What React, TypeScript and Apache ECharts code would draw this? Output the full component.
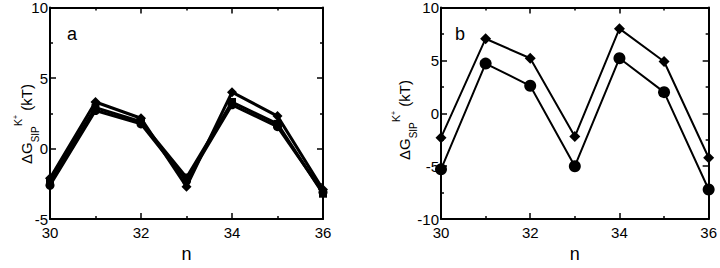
import React, { useEffect, useRef } from "react";
import * as echarts from "echarts";

const nValues = [30, 31, 32, 33, 34, 35, 36];
const aDiamond = [-2.1, 3.3, 2.15, -2.7, 4.0, 2.3, -2.9];
const aSquare = [-2.3, 2.9, 1.9, -2.05, 3.3, 1.75, -3.2];
const aCircle = [-2.6, 2.7, 1.75, -2.3, 3.1, 1.55, -3.1];
const bDiamond = [-2.3, 7.05, 5.2, -2.2, 8.0, 4.9, -4.2];
const bCircle = [-5.3, 4.7, 2.6, -5.0, 5.2, 2.0, -7.2];

const font = "Liberation Sans, Arial, Helvetica, sans-serif";

function pairs(ys: number[]) {
  return nValues.map((n, i) => [n, ys[i]]);
}

function xAx(gridIndex: number, pos: "bottom" | "top", show: boolean) {
  return {
    type: "value",
    gridIndex,
    position: pos,
    min: 30,
    max: 36,
    interval: 2,
    axisLine: { show: true, onZero: false, lineStyle: { color: "#000", width: 2 } },
    axisTick: { show: true, inside: true, length: 6, lineStyle: { color: "#000", width: 1.5 } },
    minorTick: { show: true, splitNumber: 2, length: 3, lineStyle: { color: "#000", width: 1.5 } },
    splitLine: { show: false },
    axisLabel: show
      ? { show: true, color: "#000", fontSize: 15, fontFamily: font, margin: 6 }
      : { show: false },
    name: show ? "n" : "",
    nameLocation: "middle",
    nameGap: 22,
    nameTextStyle: { color: "#000", fontSize: 18, fontFamily: font },
  };
}

function yAx(gridIndex: number, pos: "left" | "right", show: boolean, min: number, max: number) {
  return {
    type: "value",
    gridIndex,
    position: pos,
    min,
    max,
    interval: 5,
    axisLine: { show: true, onZero: false, lineStyle: { color: "#000", width: 2 } },
    axisTick: { show: true, inside: true, length: 6, lineStyle: { color: "#000", width: 1.5 } },
    minorTick: { show: true, splitNumber: 2, length: 3, lineStyle: { color: "#000", width: 1.5 } },
    splitLine: { show: false },
    axisLabel: show
      ? {
          show: true,
          color: "#000",
          fontSize: 15,
          fontFamily: font,
          margin: 2,
          formatter: (v: number) => String(v),
        }
      : { show: false },
  };
}

function line(xi: number, yi: number, data: number[], symbol: string, size: number, w: number) {
  return {
    type: "line",
    xAxisIndex: xi,
    yAxisIndex: yi,
    data: pairs(data),
    symbol,
    symbolSize: size,
    itemStyle: { color: "#000" },
    lineStyle: { color: "#000", width: w },
  };
}

const rich = {
  m: { fontSize: 15, fontFamily: font, color: "#000", lineHeight: 28 },
  sub: { fontSize: 10, fontFamily: font, color: "#000", verticalAlign: "bottom" },
  sup: { fontSize: 11, fontFamily: font, color: "#000", verticalAlign: "top" },
  sup2: { fontSize: 7, fontFamily: font, color: "#000", verticalAlign: "top" },
};
const yLabelText = "{m|ΔG}{sub|SIP}{sup|K}{sup2|+}{m| (kT)}";

export default function App() {
  const ref = useRef<HTMLDivElement>(null);
  useEffect(() => {
    if (!ref.current) return;
    const chart = echarts.init(ref.current, undefined, { renderer: "svg" });
    chart.setOption({
      animation: false,
      backgroundColor: "#fff",
      grid: [
        { left: 50, top: 7, width: 273, height: 227 },
        { left: 441, top: 7, width: 268, height: 229 },
      ],
      xAxis: [xAx(0, "bottom", true), xAx(0, "top", false), xAx(1, "bottom", true), xAx(1, "top", false)],
      yAxis: [
        yAx(0, "left", true, -5, 10),
        yAx(0, "right", false, -5, 10),
        yAx(1, "left", true, -10, 10),
        yAx(1, "right", false, -10, 10),
      ],
      series: [
        line(0, 0, aDiamond, "diamond", 10, 3),
        line(0, 0, aSquare, "rect", 8, 3),
        line(0, 0, aCircle, "circle", 9, 3),
        line(2, 2, bDiamond, "diamond", 11, 2),
        line(2, 2, bCircle, "circle", 12, 2),
      ],
      graphic: [
        {
          type: "text",
          x: 26,
          y: 124,
          rotation: Math.PI / 2,
          style: { text: yLabelText, rich, align: "center", verticalAlign: "middle" },
        },
        {
          type: "text",
          x: 404,
          y: 120,
          rotation: Math.PI / 2,
          style: { text: yLabelText, rich, align: "center", verticalAlign: "middle" },
        },
        {
          type: "text",
          x: 67,
          y: 25,
          style: { text: "a", fontSize: 18, fontFamily: font, fill: "#000" },
        },
        {
          type: "text",
          x: 455,
          y: 25,
          style: { text: "b", fontSize: 18, fontFamily: font, fill: "#000" },
        },
      ],
    });
    return () => chart.dispose();
  }, []);
  return (
    <div
      ref={ref}
      style={{ position: "absolute", left: 0, top: 0, width: 720, height: 268 }}
    />
  );
}
